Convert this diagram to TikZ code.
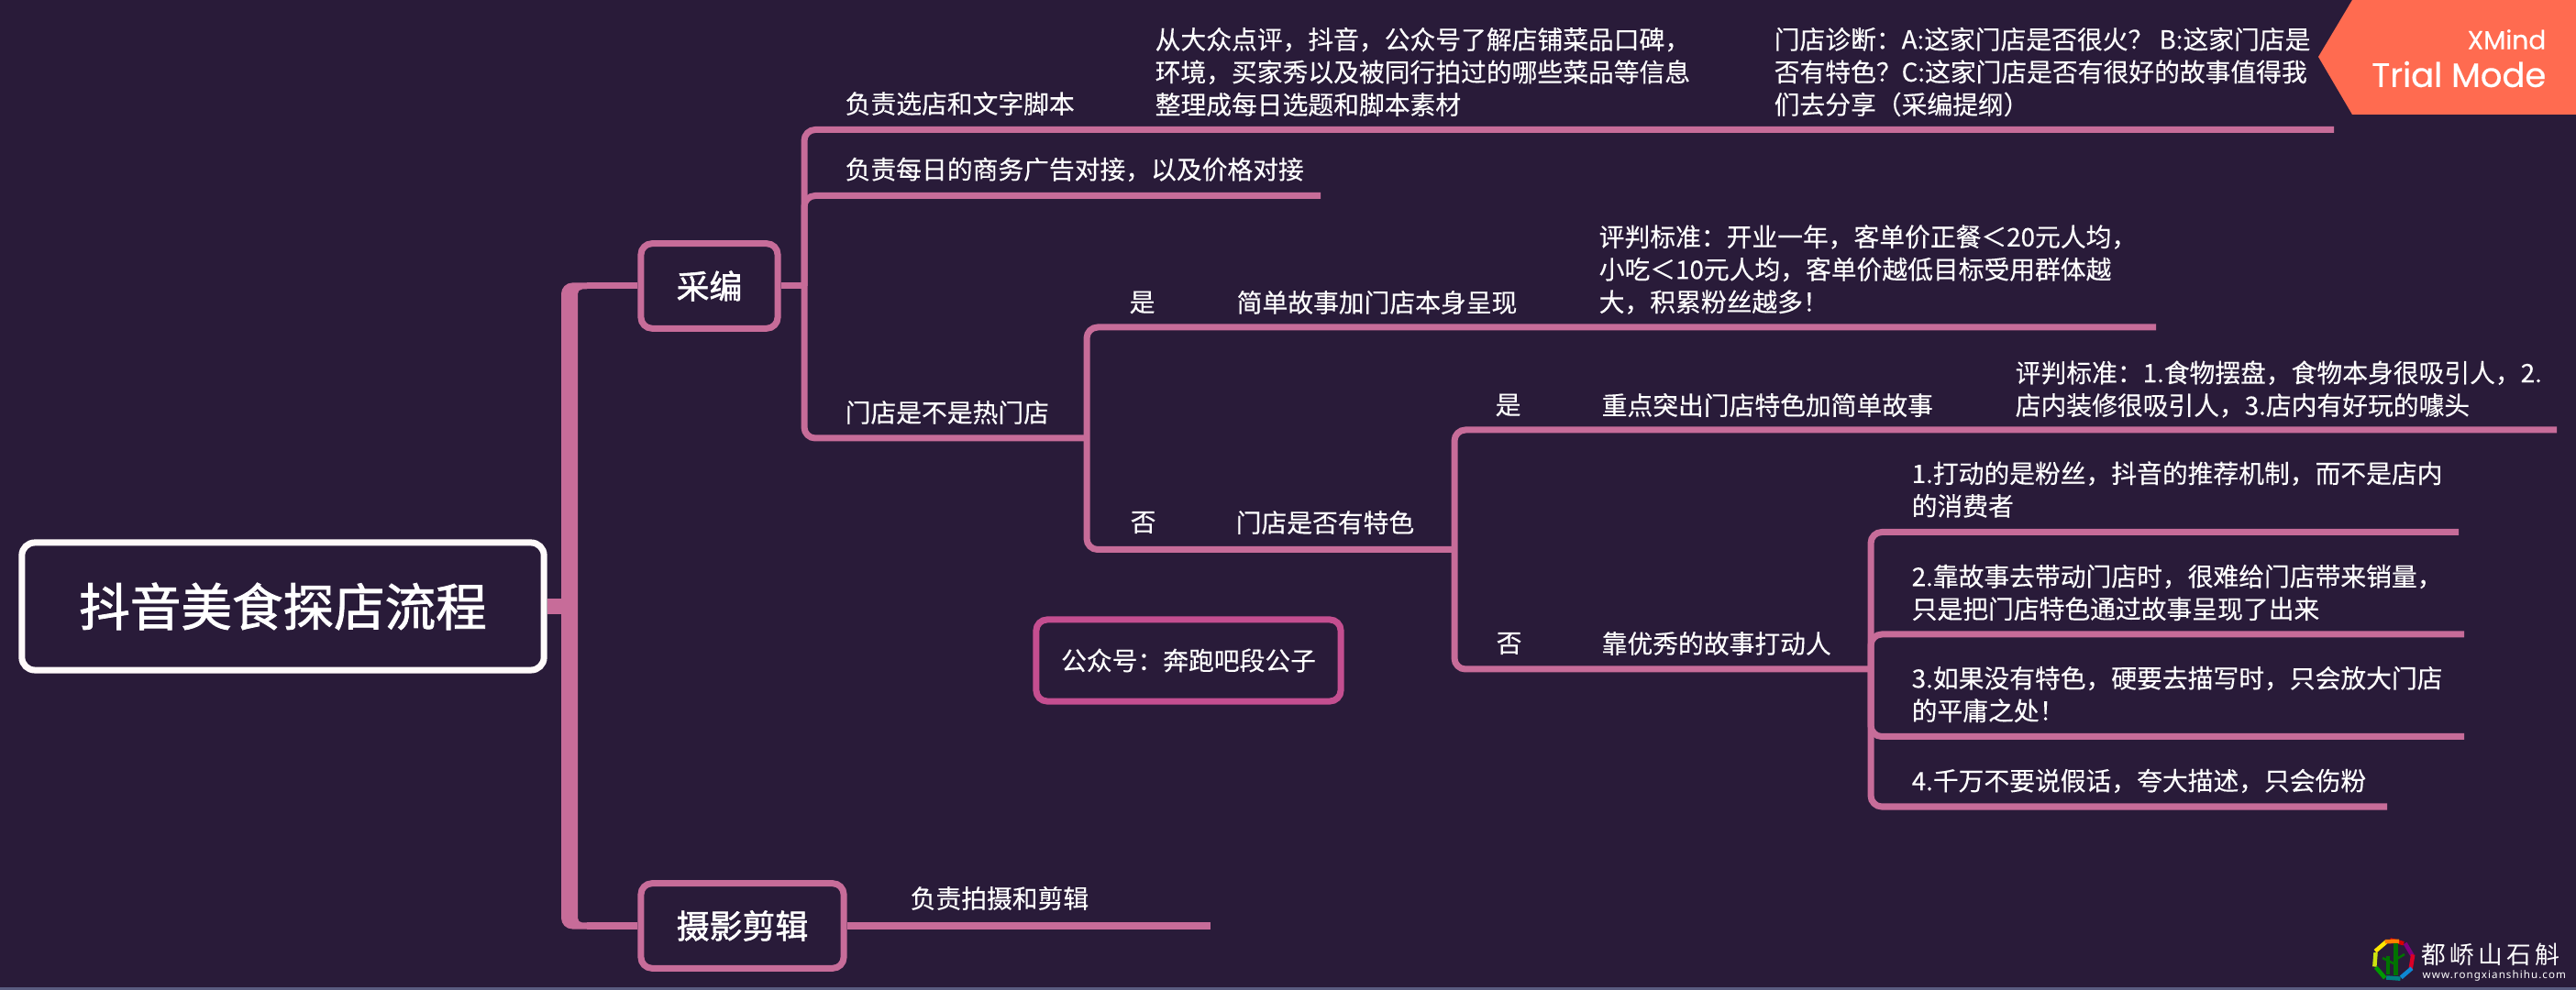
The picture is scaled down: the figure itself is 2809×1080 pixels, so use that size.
\documentclass[tikz,border=0pt]{standalone}
\usepackage{fontspec}
\setmainfont[FakeBold=0.25]{Noto Sans CJK SC}
\newfontfamily\boxfont[FakeBold=1.5]{Noto Sans CJK SC}
\newfontfamily\trialfont[FakeBold=0.5]{Poppins}
\newfontfamily\markfont[LetterSpace=16]{Noto Sans CJK SC}
\newfontfamily\urlfont[LetterSpace=9]{Noto Sans}
\usepackage{xcolor}
\usetikzlibrary{positioning}
\definecolor{bgcol}{HTML}{291B39}
\definecolor{branchcol}{HTML}{C76C99}
\definecolor{notecol}{HTML}{C44E90}
\definecolor{trialcol}{HTML}{FF6B50}
\definecolor{edgecol}{HTML}{5A5C80}

\begin{document}
\begin{tikzpicture}[x=0.01cm, y=-0.01cm,
  mainbox/.style={draw=white!92!pink, line width=0.07cm, rounded corners=0.14cm, text=white,
    minimum width=5.69cm, minimum height=1.39cm, inner sep=0,
    font=\fontsize{15.8}{18}\boxfont},
  subbox/.style={draw=branchcol, line width=0.07cm, rounded corners=0.12cm, text=white,
    minimum height=0.925cm, inner sep=0, font=\fontsize{10.2}{12}\boxfont},
  lbl/.style={anchor=west, inner sep=0, text=white, align=left,
    font=\fontsize{7.9}{10.1}\selectfont},
  branch/.style={draw=branchcol, line width=0.07cm, rounded corners=0.12cm},
  stem/.style={draw=branchcol, line width=0.175cm}]
\useasboundingbox (0,0) rectangle (2809,1080);
\fill[bgcol] (0,0) rectangle (2809,1080);
\fill[edgecol] (0,1077) rectangle (2809,1080);

%boxes
\node[mainbox] (root) at (308.5,661.5) {抖音美食探店流程};
\node[subbox, minimum width=1.49cm] (caibian) at (773.5,312) {采编};
\node[subbox, minimum width=2.21cm] (sheying) at (809.5,1010) {摄影剪辑};
\node[subbox, draw=notecol, minimum width=3.32cm, minimum height=0.89cm,
  font=\fontsize{7.9}{10.1}\selectfont] (gongzhong) at (1296,720.5) {公众号：奔跑吧段公子};

%trunk
\coordinate (rootin) at (614,661.5);
\coordinate (caiin) at (640,312);
\coordinate (sheyin) at (640,1010);
\fill[branchcol] (640,308.5) [rounded corners=0.12cm] -- (612,308.5) -- (612,1013.5) [sharp corners]
  -- (640,1013.5) -- (640,1006.5) [rounded corners=0.05cm] -- (630,1006.5) -- (630,315.5) [sharp corners]
  -- (640,315.5) -- cycle;
\draw[stem] (root.east) -- (rootin);
\draw[branch] (caibian.west) -- (caiin);
\draw[branch] (sheying.west) -- (sheyin);

%junctions and line ends
\coordinate (hubcai) at (877,312);
\coordinate (endpick) at (2545,141.5);
\coordinate (endads) at (1440,213.5);
\coordinate (hubhot) at (1185,478);
\coordinate (endyes) at (2351,357);
\coordinate (hubno) at (1586,599.5);
\coordinate (endspecial) at (2788,469);
\coordinate (hubstory) at (2040,730);
\coordinate (endfans) at (2681,580.5);
\coordinate (endsales) at (2687,692);
\coordinate (endplain) at (2687,803.5);
\coordinate (endfake) at (2603,880);
\coordinate (endshoot) at (1320,1010);

\draw[branch] (caibian.east) -- (hubcai);
\draw[branch] (endpick) -| (hubcai) |- (hubhot);
\draw[branch] (endads) -| (hubcai);
\draw[branch] (endyes) -| (hubhot) |- (hubno);
\draw[branch] (endspecial) -| (hubno) |- (hubstory);
\draw[branch] (endfans) -| (hubstory) |- (endfake);
\draw[branch] (endsales) -| (hubstory);
\draw[branch] (endplain) -| (hubstory);
\draw[branch] (sheying.east) -- (endshoot);

%caibian texts
\node[lbl] (pick) at (921,113) {负责选店和文字脚本};
\node[lbl] (source) at (1259,78.5) {从大众点评，抖音，公众号了解店铺菜品口碑，\\环境，买家秀以及被同行拍过的哪些菜品等信息\\整理成每日选题和脚本素材};
\node[lbl] (diagnose) at (1934,78.5) {门店诊断：A:这家门店是否很火？ B:这家门店是\\否有特色？C:这家门店是否有很好的故事值得我\\们去分享（采编提纲）};
\node[lbl] (ads) at (921,185) {负责每日的商务广告对接，以及价格对接};
\node[lbl] (hot) at (921,450) {门店是不是热门店};
\node[lbl] (shoot) at (992,980) {负责拍摄和剪辑};

%yes and no
\foreach \n/\x/\y/\t in {yesa/1231/330/是, simple/1348/330/简单故事加门店本身呈现,
  noa/1232/570/否, special/1347/570/门店是否有特色,
  yesb/1630/442/是, focus/1746/442/重点突出门店特色加简单故事,
  nob/1631/702/否, story/1746/702/靠优秀的故事打动人} {
  \node[lbl] (\n) at (\x,\y) {\t};
}
\node[lbl] (rulea) at (1743,294) {评判标准：开业一年，客单价正餐＜20元人均，\\小吃＜10元人均，客单价越低目标受用群体越\\大，积累粉丝越多！};
\node[lbl] (ruleb) at (2197,424.5) {评判标准：1.食物摆盘，食物本身很吸引人，2.\\店内装修很吸引人，3.店内有好玩的噱头};

%story items
\node[lbl] (itema) at (2084,534) {1.打动的是粉丝，抖音的推荐机制，而不是店内\\的消费者};
\node[lbl] (itemb) at (2084,646.5) {2.靠故事去带动门店时，很难给门店带来销量，\\只是把门店特色通过故事呈现了出来};
\node[lbl] (itemc) at (2084,757.5) {3.如果没有特色，硬要去描写时，只会放大门店\\的平庸之处！};
\node[lbl] (itemd) at (2084,852) {4.千万不要说假话，夸大描述，只会伤粉};

%trial mark
\fill[trialcol] (2565,0) -- (2528,62) -- (2565,125) -- (2809,125) -- (2809,0) -- cycle;
\node[anchor=east, inner sep=0, text=white, font=\fontsize{8}{9}\trialfont] (xmind) at (2777,43) {XMind};
\node[anchor=east, inner sep=0, text=white, font=\fontsize{10.5}{12}\trialfont] (trial) at (2777,81) {Trial Mode};

%logo
\begin{scope}[shift={(2610,1047)}]
  \foreach \a/\c in {-100/red!85!black, -55/violet, -15/red!70!violet, 25/cyan!70!blue,
    70/teal, 115/green!60!black, 160/yellow!80!green, 205/yellow!90!orange, 245/orange} {
    \draw[\c, line width=0.045cm] (\a:22) -- (\a+42:21);
  }
  \draw[green!45!black, line width=0.05cm] (2,-18) -- (2,17);
  \draw[green!45!black, line width=0.035cm] (-6,-4) -- (-6,16);
  \draw[green!45!black, line width=0.025cm] (2,0) -- (12,-6) (2,5) -- (-12,-2);
\end{scope}
\node[anchor=west, inner sep=0, text=white, font=\fontsize{7.6}{9}\markfont] (mark) at (2640,1041) {都峤山石斛};
\node[anchor=west, inner sep=0, text=white, font=\fontsize{3.3}{4}\urlfont] (url) at (2641,1064) {www.rongxianshihu.com};
\end{tikzpicture}
\end{document}
